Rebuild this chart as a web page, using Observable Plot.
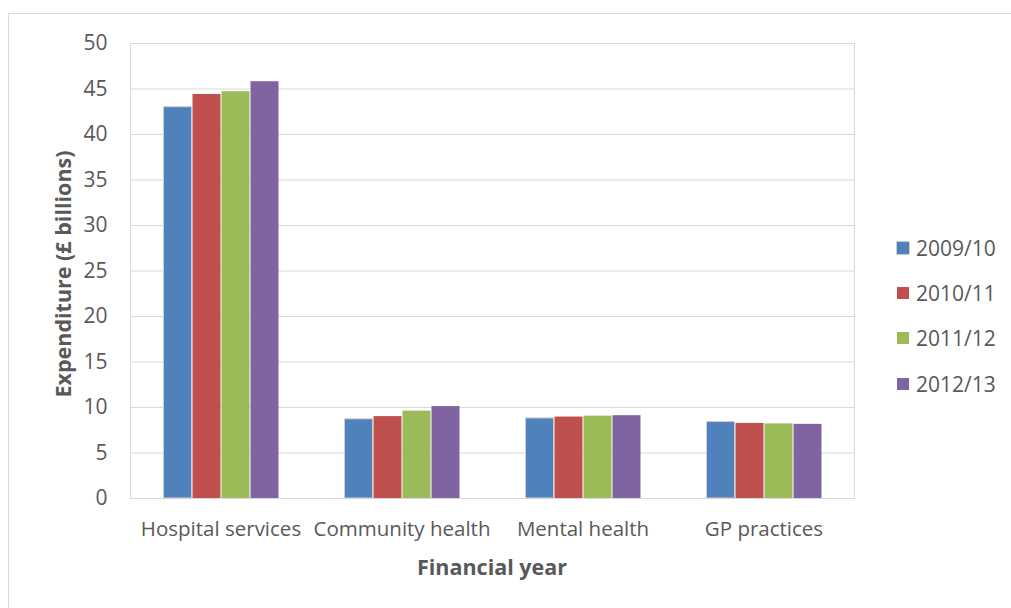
<!DOCTYPE html>
<html>
<head>
<meta charset="utf-8">
<script src="https://cdn.jsdelivr.net/npm/d3@7"></script>
<script src="https://cdn.jsdelivr.net/npm/@observablehq/plot@0.6"></script>
<style>
  html, body { margin: 0; padding: 0; background: #fff; overflow: hidden; }
  body { width: 1011px; height: 608px; position: relative; font-family: "Open Sans", sans-serif; color: #595959; }
  #border { position: absolute; left: 8px; top: 13px; width: 1200px; height: 800px; border: 1px solid #d9d9d9; box-sizing: border-box; }
  #chart { position: absolute; left: 0; top: 0; }
  #legend { position: absolute; left: 897px; top: 225px; }
  .row { display: flex; align-items: center; height: 45.3px; font-size: 21px; color: #595959; }
  .sw { width: 12px; height: 12px; margin-right: 7px; }
  #xlabel { position: absolute; left: 342px; width: 300px; top: 552px; text-align: center; font-weight: bold; font-size: 21.5px; color: #595959; }
  #ylabel { position: absolute; left: 62px; top: 274px; transform: translate(-50%, -50%) rotate(-90deg); white-space: nowrap; font-weight: bold; font-size: 21.5px; color: #595959; }
</style>
</head>
<body>
<div id="border"></div>
<div id="chart"></div>
<div id="legend"></div>
<div id="xlabel">Financial year</div>
<div id="ylabel">Expenditure (£ billions)</div>
<script>
const categories = ["Hospital services", "Community health", "Mental health", "GP practices"];
const years = ["2009/10", "2010/11", "2011/12", "2012/13"];
const hospital = [43.0, 44.4, 44.7, 45.8];
const community = [8.7, 9.0, 9.6, 10.1];
const mental = [8.8, 8.95, 9.05, 9.1];
const gp = [8.4, 8.25, 8.2, 8.15];
const yTicks = [0, 5, 10, 15, 20, 25, 30, 35, 40, 45, 50];
const colors = ["#4f81bd", "#c0504d", "#9bbb59", "#8064a2"];

const series = [hospital, community, mental, gp];
const data = [];
categories.forEach((c, i) => years.forEach((y, j) => data.push({category: c, year: y, value: series[i][j]})));

function build(useSuper) {
  const borderMarks = useSuper
    ? [Plot.frame({facet: "super", stroke: "#d9d9d9", strokeOpacity: 1})]
    : [];
  return Plot.plot({
    width: 880,
    height: 608,
    marginLeft: 129,
    marginRight: 25,
    marginTop: 43,
    marginBottom: 110,
    style: {fontFamily: "'Open Sans', sans-serif", fontSize: "20.5px", color: "#595959", background: "transparent"},
    fx: {domain: categories, padding: 0, label: null, axis: null},
    x: {domain: years, paddingInner: 0, paddingOuter: 1.1, axis: null},
    y: {domain: [0, 50], axis: null},
    color: {domain: years, range: colors},
    marks: [
      Plot.gridY(yTicks, {stroke: "#d9d9d9", strokeOpacity: 1}),
      ...borderMarks,
      Plot.axisY(yTicks, {anchor: "left", tickSize: 0, tickPadding: 23, color: "#595959", label: null, fontSize: 21}),
      Plot.axisFx({anchor: "bottom", tickSize: 0, tickPadding: 23, label: null, color: "#595959", fontSize: 20.5}),
      Plot.barY(data, {fx: "category", x: "year", y: "value", fill: "year", insetLeft: 0.5, insetRight: 0.5,
        stroke: d => d.year === years[0] ? "#cfcfcf" : "none", strokeWidth: 1})
    ]
  });
}
let chart;
try { chart = build(true); } catch (e) { chart = build(false); }
document.getElementById("chart").appendChild(chart);

const legend = document.getElementById("legend");
years.forEach((y, i) => {
  const row = document.createElement("div");
  row.className = "row";
  const sw = document.createElement("div");
  sw.className = "sw";
  sw.style.background = colors[i];
  if (i === 0) sw.style.boxShadow = "0 0 0 1px #cfcfcf";
  const t = document.createElement("span");
  t.textContent = y;
  row.appendChild(sw);
  row.appendChild(t);
  legend.appendChild(row);
});
</script>
</body>
</html>
